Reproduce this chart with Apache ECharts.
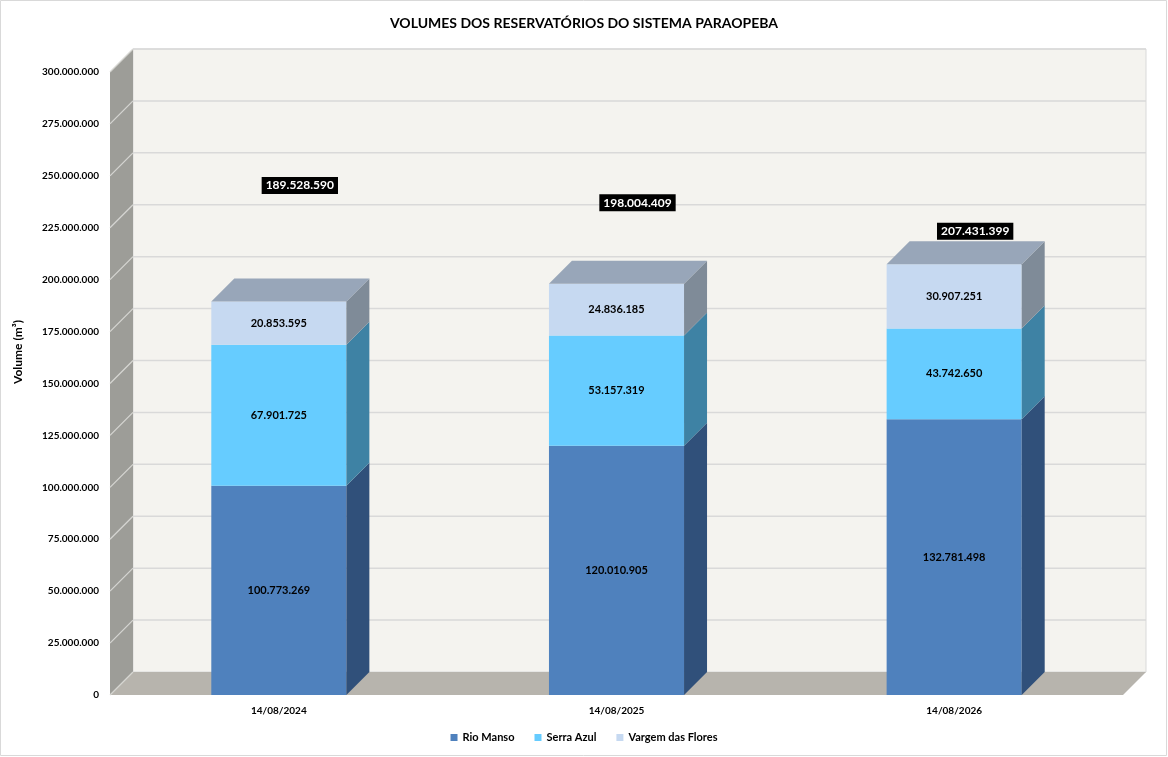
<!DOCTYPE html>
<html>
<head>
<meta charset="utf-8">
<title>Volumes dos reservatórios do Sistema Paraopeba</title>
<script src="https://cdn.jsdelivr.net/npm/echarts@6/dist/echarts.min.js"></script>
<style>
  html, body { margin: 0; padding: 0; background: #fff; }
  #chart { width: 1168px; height: 757px; }
</style>
</head>
<body>
<div id="chart"></div>
<script>
// dados
var datas = ['14/08/2024', '14/08/2025', '14/08/2026'];
var rioManso = [100773269, 120010905, 132781498];
var serraAzul = [67901725, 53157319, 43742650];
var vargemFlores = [20853595, 24836185, 30907251];
var totais = [189528590, 198004409, 207431399];
var nomes = ['Rio Manso', 'Serra Azul', 'Vargem das Flores'];

// escala do eixo
var yMax = 300000000;
var yStep = 25000000;

// estilo do "3D"
var prof = 23;
var fonte = 'Lato, "Open Sans", sans-serif';
var frente = ['#4f81bd', '#66ccff', '#c6d9f1'];
var lado = ['#30507a', '#3e82a4', '#7f8b98'];
var topo = '#98a6b9';
var liftTotal = [116, 81, 33];

function fmt(v) {
    return String(Math.round(v)).replace(/\B(?=(\d{3})+(?!\d))/g, '.');
}

var series_vals = [rioManso, serraAzul, vargemFlores];

var chart = echarts.init(document.getElementById('chart'));

// paredes, piso e linhas de grade
var paredes = {
    type: 'custom',
    silent: true,
    z: 1,
    clip: false,
    data: [[0, 0]],
    renderItem: function (params, api) {
        var cs = params.coordSys;
        var x = cs.x, y = cs.y, w = cs.width, h = cs.height, d = prof;
        var kids = [];
        kids.push({ type: 'rect', shape: { x: x + d, y: y - d, width: w, height: h },
            style: { fill: '#f4f3ef', stroke: '#d9d9d9', lineWidth: 1 } });
        kids.push({ type: 'polygon', shape: { points: [[x, y], [x + d, y - d], [x + d, y + h - d], [x, y + h]] },
            style: { fill: '#9d9d98' } });
        kids.push({ type: 'polygon', shape: { points: [[x, y + h], [x + d, y + h - d], [x + w + d, y + h - d], [x + w, y + h]] },
            style: { fill: '#b7b4ad' } });
        for (var v = yStep; v <= yMax; v += yStep) {
            var yy = api.coord([0, v])[1];
            kids.push({ type: 'line', shape: { x1: x + d, y1: yy - d, x2: x + w + d, y2: yy - d },
                style: { stroke: '#d9d9d9', lineWidth: 1.5 } });
            kids.push({ type: 'line', shape: { x1: x, y1: yy, x2: x + d, y2: yy - d },
                style: { stroke: '#d6d6d2', lineWidth: 1.2 } });
        }
        kids.push({ type: 'line', shape: { x1: x, y1: y + h, x2: x + d, y2: y + h - d },
            style: { stroke: '#d6d6d2', lineWidth: 1.2 } });
        return { type: 'group', children: kids };
    }
};

function serieBarra(k) {
    var dados = datas.map(function (c, i) {
        var base = 0;
        for (var j = 0; j < k; j++) base += series_vals[j][i];
        return [i, base, series_vals[k][i]];
    });
    return {
        type: 'custom',
        name: nomes[k],
        z: 3,
        clip: false,
        itemStyle: { color: frente[k] },
        data: dados,
        renderItem: function (params, api) {
            var i = api.value(0), base = api.value(1), val = api.value(2);
            var p0 = api.coord([i, base]);
            var p1 = api.coord([i, base + val]);
            var bw = api.size([1, 0])[0] * 0.4;
            var x0 = p0[0] - bw / 2, x1 = p0[0] + bw / 2;
            var yb = p0[1], yt = p1[1], d = prof;
            var kids = [
                { type: 'rect', shape: { x: x0, y: yt, width: bw, height: yb - yt },
                  style: { fill: frente[k] } },
                { type: 'polygon', shape: { points: [[x1, yt], [x1 + d, yt - d], [x1 + d, yb - d], [x1, yb]] },
                  style: { fill: lado[k] } }
            ];
            if (k === series_vals.length - 1) {
                kids.push({ type: 'polygon', shape: { points: [[x0, yt], [x0 + d, yt - d], [x1 + d, yt - d], [x1, yt]] },
                    style: { fill: topo } });
            }
            kids.push({ type: 'text', x: (x0 + x1) / 2, y: (yt + yb) / 2,
                style: { text: fmt(val), fill: '#000', font: 'bold 11px ' + fonte, align: 'center', verticalAlign: 'middle' } });
            return { type: 'group', children: kids };
        }
    };
}

var rotTotais = {
    type: 'custom',
    name: 'Total',
    z: 5,
    clip: false,
    silent: true,
    data: totais.map(function (t, i) { return [i, t]; }),
    renderItem: function (params, api) {
        var i = api.value(0);
        var p = api.coord([i, api.value(1)]);
        return {
            type: 'text',
            x: p[0] + 21,
            y: p[1] - liftTotal[i],
            style: {
                text: fmt(api.value(1)), fill: '#fff', font: 'bold 12px ' + fonte,
                align: 'center', verticalAlign: 'middle',
                backgroundColor: '#000', padding: [3, 4, 2, 4]
            }
        };
    }
};

var option = {
    backgroundColor: '#fff',
    animation: false,
    title: {
        text: 'VOLUMES DOS RESERVATÓRIOS DO SISTEMA PARAOPEBA',
        left: 'center',
        top: 11,
        textStyle: { fontFamily: fonte, fontSize: 14, fontWeight: 'bold', color: '#000' }
    },
    legend: {
        data: nomes,
        bottom: 9,
        left: 'center',
        icon: 'rect',
        itemWidth: 7,
        itemHeight: 7,
        itemGap: 20,
        textStyle: { fontFamily: fonte, fontSize: 11, fontWeight: 'bold', color: '#000' }
    },
    graphic: [{
        type: 'rect', z: 0, silent: true,
        shape: { x: 0.5, y: 0.5, width: 1166, height: 755 },
        style: { fill: 'none', stroke: '#d9d9d9', lineWidth: 1 }
    }, {
        type: 'text', z: 10, silent: true,
        x: 18, y: 352, rotation: Math.PI / 2,
        style: { text: 'Volume (m³)', fill: '#000', font: 'bold 12px ' + fonte,
            align: 'center', verticalAlign: 'middle' }
    }],
    grid: { left: 110, right: 45, top: 72, bottom: 62 },
    xAxis: {
        type: 'category',
        data: datas,
        axisLine: { show: false },
        axisTick: { show: false },
        axisLabel: { margin: 11, fontFamily: fonte, fontSize: 10, fontWeight: 'bold', color: '#000' }
    },
    yAxis: {
        type: 'value',
        min: 0,
        max: yMax,
        interval: yStep,
        axisLine: { show: false },
        axisTick: { show: false },
        splitLine: { show: false },
        axisLabel: { margin: 11, fontFamily: fonte, fontSize: 10, fontWeight: 'bold', color: '#000',
            formatter: function (v) { return fmt(v); } }
    },
    series: [paredes, serieBarra(0), serieBarra(1), serieBarra(2), rotTotais]
};

chart.setOption(option);
</script>
</body>
</html>
